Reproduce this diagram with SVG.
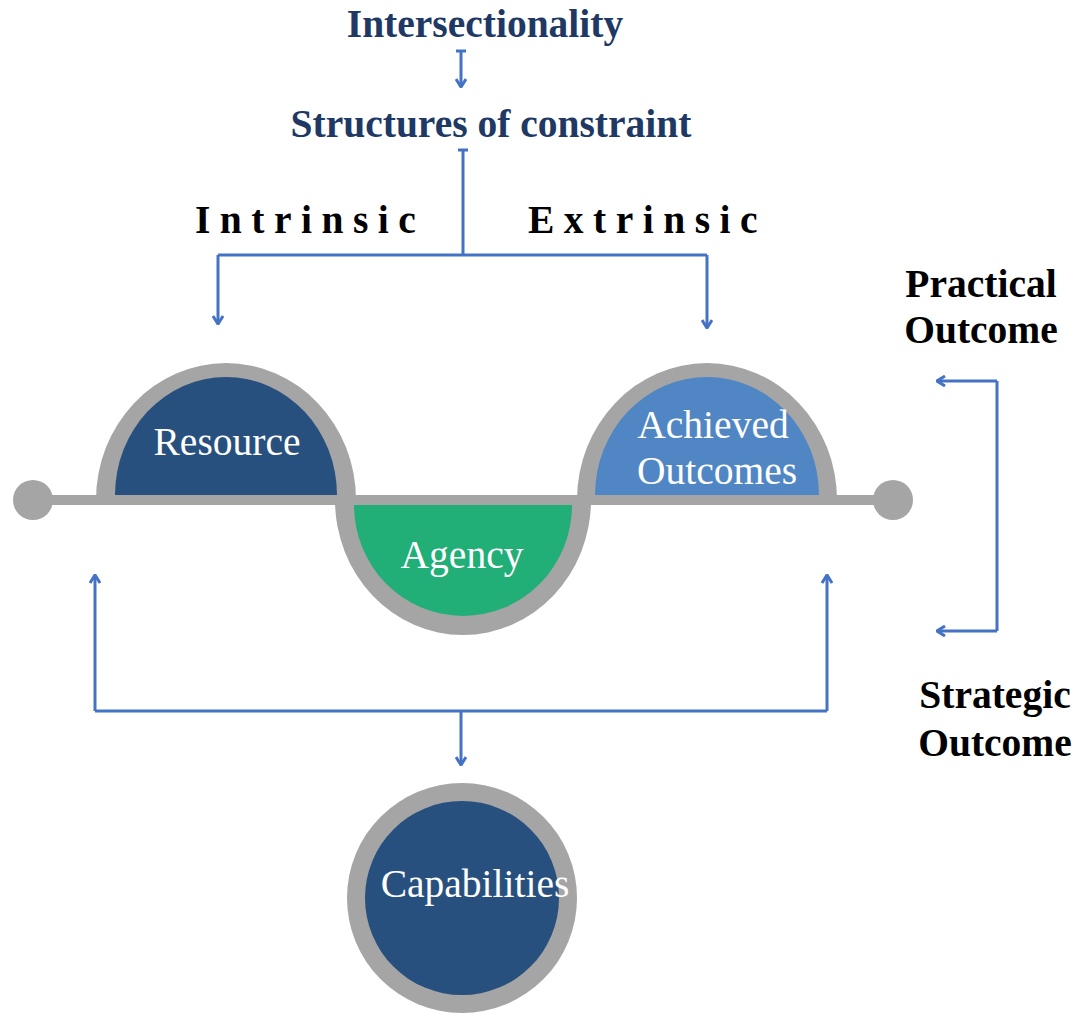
<svg xmlns="http://www.w3.org/2000/svg" width="1076" height="1021" viewBox="0 0 1076 1021">
<style>
.gray{fill:#a5a5a5}
.lbl{font-family:"Liberation Serif","Times New Roman",serif;font-size:39.5px;fill:#ffffff;text-anchor:middle}
.head{font-family:"Liberation Serif","Times New Roman",serif;font-size:39.5px;font-weight:bold;fill:#203864;text-anchor:middle}
.side{font-family:"Liberation Serif","Times New Roman",serif;font-size:39.5px;font-weight:bold;fill:#000000;text-anchor:middle}
.spaced{font-family:"Liberation Serif","Times New Roman",serif;font-size:39.5px;font-weight:bold;fill:#000000;letter-spacing:9.5px}
.conn{fill:none;stroke:#4472c4;stroke-width:3}
</style>
<defs>
<marker id="arr" viewBox="0 0 12 12" refX="11" refY="6" markerWidth="12" markerHeight="12" markerUnits="userSpaceOnUse" orient="auto">
<path d="M3,1 L11,6 L3,11" fill="none" stroke="#4472c4" stroke-width="3"/>
</marker>
</defs>
<rect width="1076" height="1021" fill="#ffffff"/>

<g id="title-intersectionality"><text class="head" x="485" y="37">Intersectionality</text></g>
<g id="title-structures"><text class="head" x="491" y="137">Structures of constraint</text></g>
<g id="label-intrinsic"><text class="spaced" x="195" y="233">Intrinsic</text></g>
<g id="label-extrinsic"><text class="spaced" x="528" y="233">Extrinsic</text></g>
<g id="label-practical"><text class="side" x="981" y="297">Practical</text><text class="side" x="981" y="343">Outcome</text></g>
<g id="label-strategic"><text class="side" x="995" y="708">Strategic</text><text class="side" x="995" y="756">Outcome</text></g>

<g id="timeline">
<circle class="gray" cx="33" cy="500" r="20"/>
<circle class="gray" cx="893" cy="500" r="20"/>
<rect class="gray" x="33" y="495" width="860" height="10"/>
</g>

<g id="node-agency">
<path class="gray" d="M335 500 A128 135 0 0 0 591 500 Z"/>
<path d="M354 505 A109 111 0 0 0 572 505 Z" fill="#22ae77"/>
<text class="lbl" x="462" y="568">Agency</text>
</g>

<g id="node-resource">
<path class="gray" d="M96 500 A130 137 0 0 1 356 500 Z"/>
<path d="M115 495 A111 118 0 0 1 337 495 Z" fill="#28507e"/>
<text class="lbl" x="227" y="455">Resource</text>
</g>

<g id="node-achieved">
<path class="gray" d="M577 500 A130 137 0 0 1 837 500 Z"/>
<path d="M595 495 A112 118 0 0 1 819 495 Z" fill="#5186c5"/>
<text class="lbl" x="713" y="438">Achieved</text>
<text class="lbl" x="717" y="484">Outcomes</text>
</g>

<g id="node-capabilities">
<circle class="gray" cx="462" cy="898" r="115"/>
<circle cx="462" cy="898" r="97" fill="#28507e"/>
<text class="lbl" x="475" y="897">Capabilities</text>
</g>

<g id="connectors">
<path class="conn" d="M456 51 H466 M461 51 V87" marker-end="url(#arr)"/>
<path class="conn" d="M458 150 H468 M463 150 V255"/>
<path class="conn" d="M218 255 H707"/>
<path class="conn" d="M218 255 V324" marker-end="url(#arr)"/>
<path class="conn" d="M707 255 V328" marker-end="url(#arr)"/>
<path class="conn" d="M997 381 H937" marker-end="url(#arr)"/>
<path class="conn" d="M997 381 V631"/>
<path class="conn" d="M997 631 H937" marker-end="url(#arr)"/>
<path class="conn" d="M95 711 V575" marker-end="url(#arr)"/>
<path class="conn" d="M95 711 H827"/>
<path class="conn" d="M827 711 V575" marker-end="url(#arr)"/>
<path class="conn" d="M461 711 V765" marker-end="url(#arr)"/>
</g>
</svg>
